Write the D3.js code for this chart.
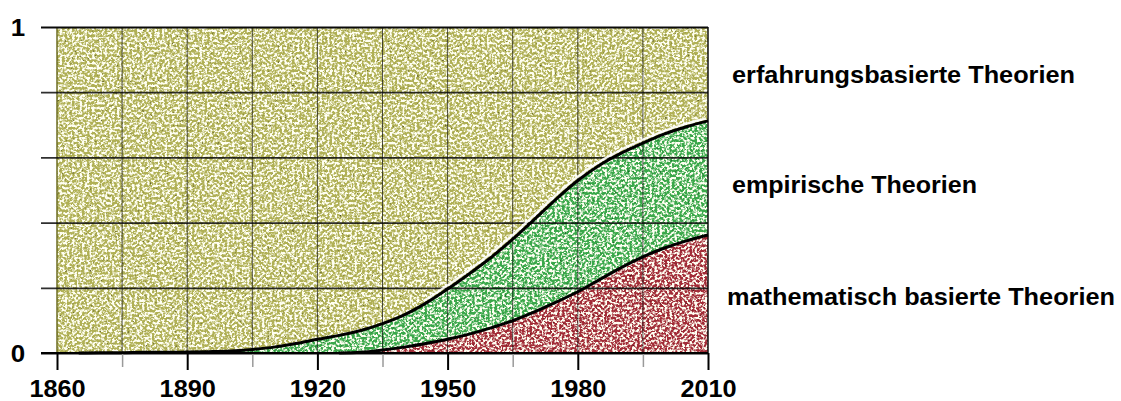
<!DOCTYPE html>
<html>
<head>
<meta charset="utf-8">
<script src="https://cdn.jsdelivr.net/npm/d3@7"></script>
<style>
  html, body { margin: 0; padding: 0; background: #fff; }
  svg { display: block; }
  text { font-family: "Liberation Sans", Arial, sans-serif; font-weight: bold; fill: #000; }
</style>
</head>
<body>
<svg id="chart" width="1121" height="401"></svg>
<script>
// Years sampled every five years
const years = [1860, 1865, 1870, 1875, 1880, 1885, 1890, 1895, 1900, 1905, 1910, 1915, 1920, 1925,
  1930, 1935, 1940, 1945, 1950, 1955, 1960, 1965, 1970, 1975, 1980, 1985, 1990, 1995, 2000, 2005, 2010];

// Share of mathematically based theories (bottom layer)
const mathShare = [0, 0, 0, 0, 0, 0, 0, 0, 0, 0, 0, 0, 0, 0,
  0.002, 0.009, 0.018, 0.029, 0.042, 0.058, 0.077, 0.099, 0.126, 0.156, 0.188, 0.225, 0.262, 0.295, 0.322, 0.344, 0.362];

// Cumulative share of mathematical + empirical theories (upper boundary)
const cumShare = [0, 0, 0.001, 0.001, 0.002, 0.002, 0.003, 0.004, 0.006, 0.011, 0.018, 0.029, 0.042, 0.054,
  0.069, 0.09, 0.117, 0.153, 0.196, 0.243, 0.293, 0.349, 0.41, 0.472, 0.529, 0.576, 0.613, 0.644, 0.672, 0.694, 0.712];

const majorTicks = [1860, 1890, 1920, 1950, 1980, 2010];
const minorTicks = [1875, 1905, 1935, 1965, 1995];
const gridYears = [1875, 1890, 1905, 1920, 1935, 1950, 1965, 1980, 1995];
const yTicks = [0, 0.2, 0.4, 0.6, 0.8, 1];
const yLabelTicks = [0, 1];

const seriesLabels = ["erfahrungsbasierte Theorien", "empirische Theorien", "mathematisch basierte Theorien"];

const svg = d3.select("#chart");
const x = d3.scaleLinear().domain([1860, 2010]).range([57, 708]);
const y = d3.scaleLinear().domain([0, 1]).range([353, 27]);

// Speckled texture filter
const defs = svg.append("defs");
const f = defs.append("filter").attr("id", "speckle")
  .attr("x", 0).attr("y", 0).attr("width", 1).attr("height", 1)
  .attr("color-interpolation-filters", "sRGB");
f.append("feTurbulence").attr("type", "fractalNoise").attr("baseFrequency", 0.4)
  .attr("numOctaves", 2).attr("seed", 11).attr("result", "noise");
f.append("feColorMatrix").attr("in", "noise").attr("type", "matrix")
  .attr("values", "0 0 0 0 1  0 0 0 0 1  0 0 0 0 0.95  5 0 0 0 -2.1").attr("result", "light");
f.append("feComposite").attr("in", "light").attr("in2", "SourceGraphic").attr("operator", "in").attr("result", "lightIn");
f.append("feColorMatrix").attr("in", "noise").attr("type", "matrix")
  .attr("values", "0 0 0 0 0  0 0 0 0 0  0 0 0 0 0  0 -2.5 0 0 0.8").attr("result", "dark");
f.append("feComposite").attr("in", "dark").attr("in2", "SourceGraphic").attr("operator", "in").attr("result", "darkIn");
const m = f.append("feMerge");
m.append("feMergeNode").attr("in", "SourceGraphic");
m.append("feMergeNode").attr("in", "darkIn");
m.append("feMergeNode").attr("in", "lightIn");

const data = years.map((yr, i) => ({ year: yr, math: mathShare[i], cum: cumShare[i] }));
const curve = d3.curveMonotoneX;

// Experience-based layer fills the whole plot area
svg.append("rect")
  .attr("x", x(1860)).attr("y", y(1))
  .attr("width", x(2010) - x(1860)).attr("height", y(0) - y(1))
  .attr("fill", "#b0b055").attr("filter", "url(#speckle)");

// Empirical layer
svg.append("path").datum(data)
  .attr("d", d3.area().x(d => x(d.year)).y0(d => y(d.math)).y1(d => y(d.cum)).curve(curve))
  .attr("fill", "#3aa84a").attr("filter", "url(#speckle)");

// Mathematical layer
svg.append("path").datum(data)
  .attr("d", d3.area().x(d => x(d.year)).y0(y(0)).y1(d => y(d.math)).curve(curve))
  .attr("fill", "#a22c37").attr("filter", "url(#speckle)");

// Vertical grid lines
svg.append("g").selectAll("line").data(gridYears).join("line")
  .attr("x1", d => x(d)).attr("x2", d => x(d))
  .attr("y1", y(1)).attr("y2", y(0))
  .attr("stroke", "#1a1a1a").attr("stroke-opacity", 0.75).attr("stroke-width", 1);

// Left and right borders of the plot area
svg.append("line").attr("x1", x(1860)).attr("x2", x(1860)).attr("y1", y(1)).attr("y2", y(0))
  .attr("stroke", "#6d6d22").attr("stroke-width", 1.5);
svg.append("line").attr("x1", x(2010)).attr("x2", x(2010)).attr("y1", y(1)).attr("y2", y(0))
  .attr("stroke", "#111").attr("stroke-width", 1.5);

// Horizontal grid lines, extending left as tick marks
const grid = svg.append("g").attr("transform", "translate(41,0)")
  .call(d3.axisLeft(y).tickValues(yTicks).tickSize(-(x(2010) - 41)).tickFormat(""));
grid.select(".domain").remove();
grid.selectAll(".tick line").attr("stroke", "#0a0a0a").attr("stroke-width", 1.8)
  .attr("stroke-opacity", d => (d === 0 || d === 1) ? 1 : 0.85);

// Y labels (only 0 and 1)
const yAx = svg.append("g").attr("transform", "translate(18,0)")
  .call(d3.axisLeft(y).tickValues(yLabelTicks).tickSize(0).tickPadding(0).tickFormat(d3.format("d")));
yAx.select(".domain").remove();
yAx.selectAll(".tick text").attr("text-anchor", "middle").attr("x", 0).attr("dy", "0.36em")
  .style("font-size", "24px").attr("transform", "scale(1.08,1)");

// Boundary curves
const upperLine = d3.line().x(d => x(d.year)).y(d => y(d.cum)).curve(curve);
const lowerData = data.filter(d => d.year >= 1925);
const lowerLine = d3.line().x(d => x(d.year)).y(d => y(d.math)).curve(curve);

svg.append("path").datum(data.filter(d => d.year >= 1945))
  .attr("d", upperLine).attr("fill", "none").attr("stroke", "#fff")
  .attr("stroke-width", 2.2).attr("stroke-opacity", 0.9).attr("transform", "translate(-2,-2.5)");
svg.append("path").datum(data.filter(d => d.year >= 1865))
  .attr("d", upperLine).attr("fill", "none").attr("stroke", "#000")
  .attr("stroke-width", 3).attr("stroke-linejoin", "round");
svg.append("path").datum(lowerData)
  .attr("d", lowerLine).attr("fill", "none").attr("stroke", "#000")
  .attr("stroke-width", 3).attr("stroke-linejoin", "round");

// X axis: minor ticks (grey) and major ticks with labels
const xMinor = svg.append("g").attr("transform", `translate(0,${y(0)})`)
  .call(d3.axisBottom(x).tickValues(minorTicks).tickSize(14).tickFormat(""));
xMinor.select(".domain").remove();
xMinor.selectAll(".tick line").attr("stroke", "#9a9a9a").attr("stroke-width", 1.5);

const xMajor = svg.append("g").attr("transform", `translate(0,${y(0)})`)
  .call(d3.axisBottom(x).tickValues(majorTicks).tickSize(17).tickPadding(0).tickFormat(d3.format("d")));
xMajor.select(".domain").remove();
xMajor.selectAll(".tick line").attr("stroke", "#000").attr("stroke-width", 2);
xMajor.selectAll(".tick text").attr("y", 44).attr("dy", 0)
  .style("font-size", "23px").attr("transform", "scale(1.1,1)");

// Baseline
svg.append("line").attr("x1", 41).attr("x2", x(2010)).attr("y1", y(0)).attr("y2", y(0))
  .attr("stroke", "#000").attr("stroke-width", 2);

// Series labels on the right
const labelPos = [{ x: 732, y: 83, w: 343 }, { x: 732, y: 193, w: 245 }, { x: 727, y: 305, w: 388 }];
svg.append("g").selectAll("text").data(seriesLabels).join("text")
  .attr("x", (d, i) => labelPos[i].x).attr("y", (d, i) => labelPos[i].y)
  .attr("textLength", (d, i) => labelPos[i].w).attr("lengthAdjust", "spacingAndGlyphs")
  .style("font-size", "23px")
  .text(d => d);
</script>
</body>
</html>
